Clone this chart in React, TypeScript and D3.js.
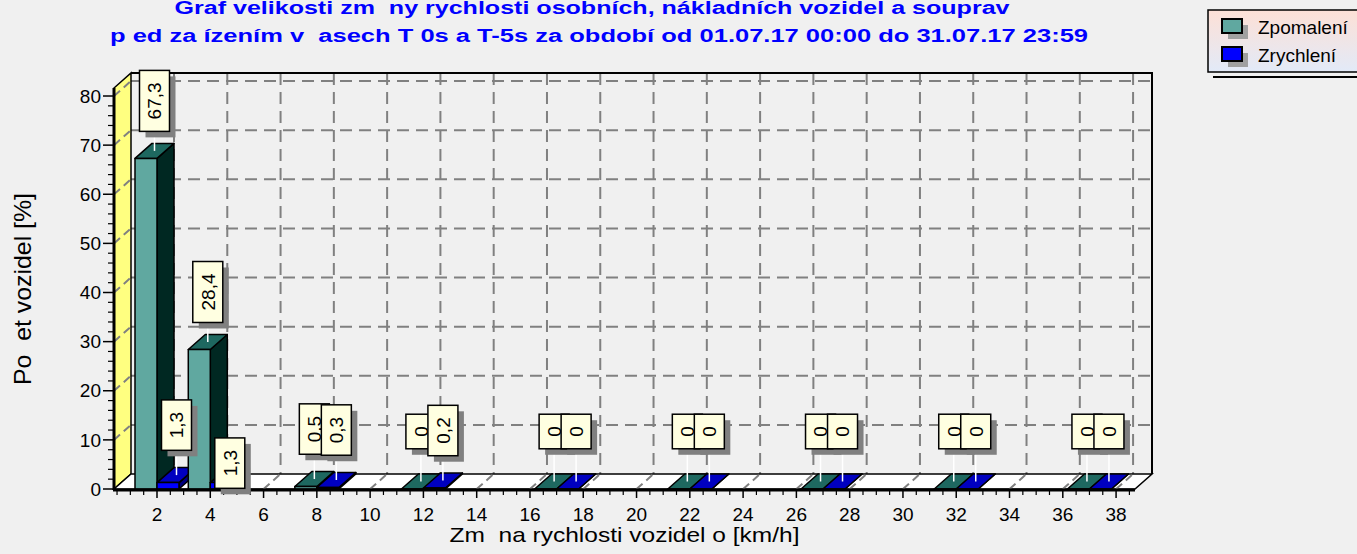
import React from 'react';
import * as d3 from 'd3';

// speed change classes and the two series (percent of vehicles)
const speedClasses = [2, 4, 8, 12, 17, 22, 27, 32, 37];
const deceleration = [67.3, 28.4, 0.5, 0, 0, 0, 0, 0, 0];
const acceleration = [1.3, 1.3, 0.3, 0.2, 0, 0, 0, 0, 0];
const xTicks = d3.range(2, 39, 2);
const xMinorTicks = d3.range(0.5, 38.6, 0.5).filter(v => v % 2 !== 0);
const yTicks = d3.range(0, 81, 10);
const yMinorTicks = d3.range(2, 81, 2).filter(v => v % 10 !== 0);

const titleLines = [
  'Graf velikosti zm  ny rychlosti osobních, nákladních vozidel a souprav',
  'p ed za ízením v  asech T 0s a T-5s za období od 01.07.17 00:00 do 31.07.17 23:59',
];
const xTitle = 'Zm  na rychlosti vozidel o [km/h]';
const yTitle = 'Po  et vozidel [%]';

const series = [
  { name: 'Zpomalení', values: deceleration, front: '#60a8a0', top: '#1e6860', side: '#002822' },
  { name: 'Zrychlení', values: acceleration, front: '#0000ff', top: '#0000c0', side: '#00007f' },
];

const W = 1357;
const H = 554;
const FONT = '"Liberation Sans", Arial, sans-serif';
const DX = 17;
const DY = 15;
const BAR_W = 22;

const x = d3.scaleLinear().domain([0.386, 38.71]).range([114, 1135]);
const y = d3.scaleLinear().domain([0, 81.63]).range([489, 88]);

let ctx: CanvasRenderingContext2D | null = null;
function textWidth(t: string, size: number) {
  if (!ctx) ctx = document.createElement('canvas').getContext('2d');
  if (!ctx) return t.length * size * 0.55;
  ctx.font = `${size}px "Liberation Sans"`;
  return ctx.measureText(t).width;
}

const fmt = (v: number) => String(v).replace('.', ',');

function box3d(x0: number, x1: number, yTop: number, yBase: number) {
  const front = `M${x0},${yTop}H${x1}V${yBase}H${x0}Z`;
  const top = `M${x0},${yTop}L${x0 + DX},${yTop - DY}L${x1 + DX},${yTop - DY}L${x1},${yTop}Z`;
  const side = `M${x1},${yTop}L${x1 + DX},${yTop - DY}L${x1 + DX},${yBase - DY}L${x1},${yBase}Z`;
  return { front, top, side };
}

export default function App() {
  const xL = x.range()[0];
  const xR = x.range()[1];
  const yB = y.range()[0];
  const yT = y.range()[1];

  // bars
  const bars: any[] = [];
  speedClasses.forEach((c, i) => {
    series.forEach((s, si) => {
      const x0 = si === 0 ? x(c) - BAR_W : x(c);
      const x1 = x0 + BAR_W;
      const yTop = y(s.values[i]);
      bars.push({ key: `${i}-${si}`, s, x0, x1, yTop, value: s.values[i] });
    });
  });

  // marks, with overlap avoidance inside each series
  const marks: any[] = [];
  series.forEach((s, si) => {
    const placed: any[] = [];
    bars.filter(b => b.s === s).forEach(b => {
      const label = fmt(b.value);
      const len = textWidth(label, 19) + 24;
      const ax = (b.x0 + b.x1) / 2 + DX / 2;
      const ay = b.yTop - DY / 2;
      let cy = ay - 50;
      const rect = () => ({ x0: ax - len / 2, x1: ax + len / 2 + 6, y0: cy - 15, y1: cy + 15 + 6 });
      placed.forEach(p => {
        const r = rect();
        if (r.x0 < p.x1 && p.x0 < r.x1 && r.y0 < p.y1 && p.y0 < r.y1) {
          cy = p.y1 + 2 + 15;
        }
      });
      placed.push(rect());
      marks.push({ key: b.key, label, len, ax, ay, cy });
    });
  });

  const dash = '12,7';

  return (
    <svg width={W} height={H} style={{ position: 'absolute', left: 0, top: 0, background: '#f0f0f0' }}
      fontFamily={FONT}>
      <defs>
        <linearGradient id="lg" x1="0" y1="0" x2="0" y2="1">
          <stop offset="0" stopColor="#fde0d6" />
          <stop offset="1" stopColor="#e2eaf8" />
        </linearGradient>
      </defs>
      <rect width={W} height={H} fill="#f0f0f0" />

      {/* back wall */}
      <rect x={xL + DX} y={yT - DY} width={xR - xL} height={yB - yT} fill="#f0f0f0" />
      {yTicks.filter(v => v > 0).map(v => (
        <line key={'hg' + v} x1={xL + DX} x2={xR + DX} y1={y(v) - DY} y2={y(v) - DY}
          stroke="#808080" strokeWidth={2} strokeDasharray={dash} />
      ))}
      {xTicks.map(v => (
        <line key={'vg' + v} x1={x(v) + DX} x2={x(v) + DX} y1={yT - DY} y2={yB - DY}
          stroke="#808080" strokeWidth={2} strokeDasharray={dash} />
      ))}
      <path d={`M${xL + DX},${yT - DY}H${xR + DX}V${yB - DY}`} fill="none" stroke="#000" strokeWidth={2} />

      {/* left wall */}
      <path d={`M${xL},${yB}V${yT}L${xL + DX},${yT - DY}V${yB - DY}Z`} fill="#ffff80" stroke="#000" strokeWidth={1.5} />
      {yTicks.filter(v => v > 0).map(v => (
        <line key={'lw' + v} x1={xL} y1={y(v)} x2={xL + DX} y2={y(v) - DY}
          stroke="#808080" strokeWidth={2} strokeDasharray="8,5" />
      ))}

      {/* floor */}
      <path d={`M${xL},${yB}H${xR}L${xR + DX},${yB - DY}H${xL + DX}Z`} fill="#fff" stroke="#000" strokeWidth={1.5} />
      {xTicks.map(v => (
        <line key={'fl' + v} x1={x(v)} y1={yB} x2={x(v) + DX} y2={yB - DY}
          stroke="#808080" strokeWidth={2} strokeDasharray="8,5" />
      ))}

      {/* bars */}
      {bars.map(b => {
        const p = box3d(b.x0, b.x1, b.yTop, yB);
        return (
          <g key={b.key} stroke="#000" strokeWidth={1.5} strokeLinejoin="round">
            <path d={p.side} fill={b.s.side} />
            <path d={p.top} fill={b.s.top} />
            <path d={p.front} fill={b.s.front} />
          </g>
        );
      })}

      {/* axes */}
      <line x1={xL} x2={xL} y1={yB + 1} y2={yT} stroke="#000" strokeWidth={3} />
      <line x1={xL - 1} x2={xR} y1={yB + 1} y2={yB + 1} stroke="#000" strokeWidth={3} />
      {yTicks.map(v => (
        <g key={'yt' + v}>
          <line x1={xL - 11} x2={xL} y1={y(v)} y2={y(v)} stroke="#000" strokeWidth={1.5} />
          <text x={xL - 13} y={y(v)} dy="0.35em" textAnchor="end" fontSize={19}>{v}</text>
        </g>
      ))}
      {yMinorTicks.map(v => (
        <line key={'ym' + v} x1={xL - 6} x2={xL} y1={y(v)} y2={y(v)} stroke="#000" strokeWidth={1.2} />
      ))}
      {xTicks.map(v => (
        <g key={'xt' + v}>
          <line x1={x(v)} x2={x(v)} y1={yB + 1} y2={yB + 9} stroke="#000" strokeWidth={1.5} />
          <text x={x(v)} y={yB + 32} textAnchor="middle" fontSize={19}>{v}</text>
        </g>
      ))}
      {xMinorTicks.map(v => (
        <line key={'xm' + v} x1={x(v)} x2={x(v)} y1={yB + 1} y2={yB + 6} stroke="#000" strokeWidth={1.2} />
      ))}
      <text x={(xL + xR) / 2} y={542} textAnchor="middle" fontSize={21} textLength={350}
        lengthAdjust="spacingAndGlyphs" style={{ whiteSpace: 'pre' }}>{xTitle}</text>
      <text transform="translate(31,289) rotate(-90)" textAnchor="middle" fontSize={24} textLength={192}
        lengthAdjust="spacingAndGlyphs" style={{ whiteSpace: 'pre' }}>{yTitle}</text>

      {/* marks */}
      {marks.map(m => (
        <g key={'mk' + m.key}>
          <line x1={m.ax} x2={m.ax} y1={m.ay} y2={m.cy + m.len / 2} stroke="#fff" strokeWidth={1.5} />
          <rect x={m.ax - 15 + 6} y={m.cy - m.len / 2 + 6} width={30} height={m.len} fill="#808080" />
          <rect x={m.ax - 15} y={m.cy - m.len / 2} width={30} height={m.len} fill="#ffffe1" stroke="#000" strokeWidth={1.5} />
          <text transform={`translate(${m.ax},${m.cy}) rotate(-90)`} textAnchor="middle" dy="0.36em" fontSize={19}>{m.label}</text>
        </g>
      ))}

      {/* title */}
      <text x={592} y={14} textAnchor="middle" fontSize={18} fontWeight="bold" fill="#0000ff"
        textLength={835} lengthAdjust="spacingAndGlyphs" style={{ whiteSpace: 'pre' }}>{titleLines[0]}</text>
      <text x={599} y={42} textAnchor="middle" fontSize={18} fontWeight="bold" fill="#0000ff"
        textLength={978} lengthAdjust="spacingAndGlyphs" style={{ whiteSpace: 'pre' }}>{titleLines[1]}</text>

      {/* legend */}
      <line x1={1213} x2={W} y1={77} y2={77} stroke="#000" strokeWidth={2} />
      <rect x={1208} y={10} width={160} height={62} fill="url(#lg)" stroke="#000" strokeWidth={1.5} />
      {series.map((s, i) => (
        <g key={'lg' + i}>
          <rect x={1228} y={25 + i * 28} width={20} height={14} fill="#a0a0a0" />
          <rect x={1222} y={19 + i * 28} width={20} height={14} fill={s.front} stroke="#000" strokeWidth={2} />
          <text x={1258} y={34 + i * 28} fontSize={19}>{s.name}</text>
        </g>
      ))}
    </svg>
  );
}
